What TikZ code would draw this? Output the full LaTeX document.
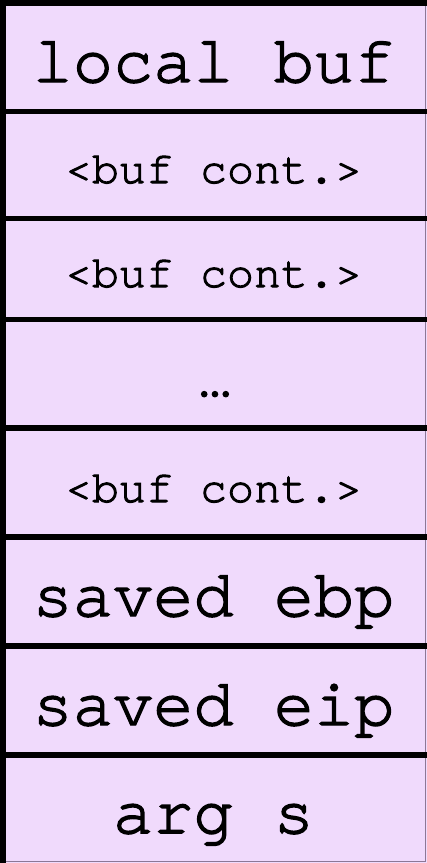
\documentclass[tikz,border=0pt]{standalone}
\usepackage{fontspec}
\newfontfamily\stackmono[FakeBold=2.2]{TeX Gyre Cursor}
\definecolor{slotfill}{RGB}{240,218,252}
\definecolor{slotedge}{RGB}{140,120,150}
\tikzset{
  slotrule/.style={line width=5.5pt, draw=black, line cap=butt},
  biglabel/.style={anchor=base, inner sep=0pt, font=\stackmono\fontsize{67}{67}\selectfont},
  smalllabel/.style={anchor=base, inner sep=0pt, font=\stackmono\fontsize{45}{45}\selectfont},
}
\begin{document}
\begin{tikzpicture}[x=1pt,y=-1pt]
  \useasboundingbox (0,0) rectangle (427,863);
  % stack background
  \fill[slotfill] (0,0) rectangle (427,863);
  % thin right and bottom edges
  \draw[slotedge, line width=1pt] (425.5,0) -- (425.5,861.5) -- (0,861.5);
  % left wall and top edge
  \draw[slotrule] (3,0) -- (3,863);
  \draw[slotrule] (0,3) -- (427,3);
  % slot separators
  \foreach \y in {111.5,218.7,319.5,428,537,646,755}
    \draw[slotrule] (0,\y) -- (427,\y);
  % slot contents
  \node[biglabel]   (buf)  at (213.5,82)    {local buf};
  \node[smalllabel] (c1)   at (213.5,183)   {<buf cont.>};
  \node[smalllabel] (c2)   at (213.5,287)   {<buf cont.>};
  \node[smalllabel, font=\stackmono\fontsize{54}{54}\selectfont] (dots) at (215,396) {…};
  \node[smalllabel] (c3)   at (213.5,502)   {<buf cont.>};
  \node[biglabel]   (ebp)  at (213.5,616)   {saved ebp};
  \node[biglabel]   (eip)  at (213.5,725)   {saved eip};
  \node[biglabel]   (arg)  at (213.5,833)   {arg s};
\end{tikzpicture}
\end{document}
